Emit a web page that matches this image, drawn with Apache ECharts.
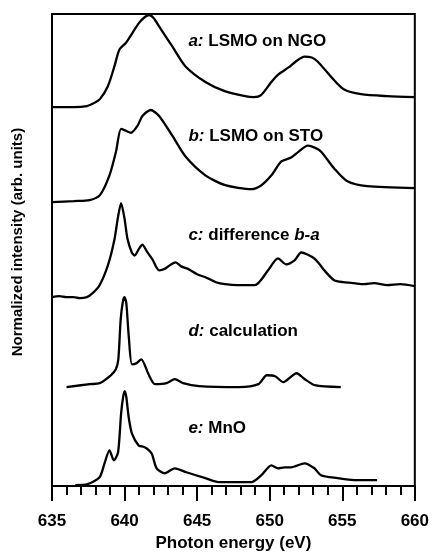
<!DOCTYPE html>
<html>
<head>
    <meta charset="utf-8">
    <title>Mn L-edge spectra</title>
    <script src="https://cdn.jsdelivr.net/npm/echarts@6/dist/echarts.min.js"></script>
    <style>html, body { margin: 0; padding: 0; background: #fff; }</style>
</head>
<body>
    <div id="main" style="width: 432px;height:557px;"></div>
    <script type="text/javascript">
        // photon energy (eV) and stacked intensity (arb. units, offsets included)
        var energyA = [635.0, 636.5, 637.4, 637.9, 638.3, 638.85, 639.3, 639.64, 640.1, 640.55, 641.0, 641.4, 641.7, 642.0, 642.4, 643.3, 644.2, 645.6, 646.9, 648.3, 648.9, 649.4, 650.1, 650.6, 651.3, 651.8, 652.4, 652.9, 653.3, 654.2, 655.1, 656.3, 658.1, 660.0];
        var curveA = [383, 383, 384, 387, 391, 404, 424, 441, 448, 458, 468, 474, 476, 473, 464, 444, 424, 408, 399, 394, 393, 395, 408, 416, 423, 429, 434, 433, 429, 414, 401, 396, 394, 393];

        var energyB = [635.0, 636.5, 637.6, 638.3, 638.96, 639.41, 639.76, 640.1, 640.44, 640.89, 641.23, 641.8, 642.38, 643.29, 644.2, 645.57, 646.93, 648.75, 649.43, 650.12, 650.8, 651.48, 652.0, 652.62, 653.1, 653.53, 654.44, 655.35, 656.72, 660.0];
        var curveB = [287, 288, 289, 294, 314, 338, 361, 359, 357, 364, 374, 380, 374, 354, 333, 314, 304, 300, 304, 314, 328, 332, 338, 344, 342, 338, 321, 308, 303, 301];

        var energyC = [635.0, 635.5, 636.0, 636.5, 636.9, 637.4, 637.8, 638.28, 638.85, 639.3, 639.55, 639.76, 640.0, 640.2, 640.5, 640.69, 641.0, 641.23, 641.5, 641.92, 642.38, 642.83, 643.2, 643.52, 643.9, 644.43, 645.0, 645.57, 646.3, 646.93, 647.8, 648.98, 649.89, 650.57, 651.14, 651.71, 652.17, 652.6, 653.08, 653.4, 653.76, 654.44, 655.1, 655.81, 656.5, 657.2, 658.09, 659.0, 660.0];
        var curveC = [191, 192, 191, 191, 190, 191, 195, 203, 223, 249, 272, 286, 270, 250, 236, 233, 240, 244, 238, 229, 218, 220, 224, 226, 222, 219, 214, 211, 206, 204, 203, 203, 218, 230, 224, 228, 236, 234, 230, 225, 218, 208, 206, 205, 204, 205, 203, 204, 202];

        var energyD = [636.0, 637.59, 638.28, 639.05, 639.4, 639.57, 639.73, 639.88, 640.0, 640.12, 640.29, 640.51, 640.8, 641.15, 641.65, 642.1, 642.9, 643.46, 644.03, 645.14, 647.87, 649.23, 649.8, 650.37, 650.94, 651.85, 652.42, 653.1, 654.9];
        var curveD = [100, 103, 104, 112, 118, 128, 168, 186, 191, 185, 151, 123, 124, 128, 113, 103, 104, 108, 104, 101, 100, 103, 112, 111, 105, 114, 108, 102, 100];

        var energyE = [636.6, 637.45, 638.28, 638.62, 638.96, 639.26, 639.55, 639.76, 639.9, 640.01, 640.12, 640.29, 640.51, 640.97, 641.25, 641.53, 641.87, 642.21, 642.77, 643.46, 644.26, 645.57, 646.48, 648.75, 649.43, 650.12, 650.57, 651.03, 651.48, 652.4, 653.08, 653.53, 654.67, 655.81, 657.4];
        var curveE = [1, 2, 9, 23, 36, 26, 34, 73, 90, 96, 90, 69, 53, 41, 40, 38, 33, 18, 13, 18, 14, 8, 4, 4, 11, 21, 18, 19, 19, 23, 18, 11, 8, 6, 6];

        var xTicks = [635, 640, 645, 650, 655, 660];

        // curve labels: rich text and anchor (energy, height)
        var labelText = ['{i|a:} LSMO on NGO', '{i|b:} LSMO on STO', '{i|c:} difference {i|b-a}', '{i|d:} calculation', '{i|e:} MnO'];
        var labelEnergy = 644.4;
        var labelHeight = [449, 353, 253, 156, 58];

        var FONT = '"Liberation Sans", Arial, sans-serif';

        function zip(xs, ys) {
            return xs.map(function (x, i) { return [x, ys[i]]; });
        }

        var myChart = echarts.init(document.getElementById('main'));

        var curves = [[energyA, curveA], [energyB, curveB], [energyC, curveC], [energyD, curveD], [energyE, curveE]];

        var option = {
            animation: false,
            grid: {
                left: 52, right: 14, top: 14, bottom: 66,
                show: true, borderColor: '#000', borderWidth: 2
            },
            xAxis: {
                type: 'value',
                min: xTicks[0], max: xTicks[xTicks.length - 1], interval: 5,
                name: 'Photon energy (eV)',
                nameLocation: 'middle',
                nameGap: 38,
                nameTextStyle: { fontFamily: FONT, fontWeight: 'bold', fontSize: 17, color: '#000' },
                axisLine: { lineStyle: { color: '#000', width: 2 } },
                axisTick: { inside: false, length: 15, lineStyle: { color: '#000', width: 2 } },
                minorTick: { show: true, splitNumber: 5, length: 9, lineStyle: { color: '#000', width: 2 } },
                splitLine: { show: false },
                minorSplitLine: { show: false },
                axisLabel: { margin: 27, fontFamily: FONT, fontWeight: 'bold', fontSize: 17, color: '#000' }
            },
            yAxis: {
                type: 'value',
                min: 0, max: 477,
                name: 'Normalized intensity (arb. units)',
                nameLocation: 'middle',
                nameGap: 27,
                nameRotate: 90,
                nameTextStyle: { fontFamily: FONT, fontWeight: 'bold', fontSize: 15, color: '#000', padding: [0, 0, 0, 16] },
                axisLine: { show: false },
                axisTick: { show: false },
                axisLabel: { show: false },
                splitLine: { show: false }
            },
            series: curves.map(function (c) {
                return {
                    type: 'line',
                    data: zip(c[0], c[1]),
                    showSymbol: false,
                    smooth: 0.25,
                    lineStyle: { color: '#000', width: 2.3 }
                };
            })
        };

        myChart.setOption(option);

        var graphics = labelText.map(function (t, i) {
            var p = myChart.convertToPixel({ gridIndex: 0 }, [labelEnergy, labelHeight[i]]);
            return {
                type: 'text',
                x: p[0], y: p[1],
                style: {
                    text: t,
                    fontFamily: FONT, fontWeight: 'bold', fontSize: 17, fill: '#000',
                    verticalAlign: 'middle',
                    rich: { i: { fontFamily: FONT, fontWeight: 'bold', fontStyle: 'italic', fontSize: 17, fill: '#000' } }
                }
            };
        });
        myChart.setOption({ graphic: graphics });
    </script>
</body>
</html>
